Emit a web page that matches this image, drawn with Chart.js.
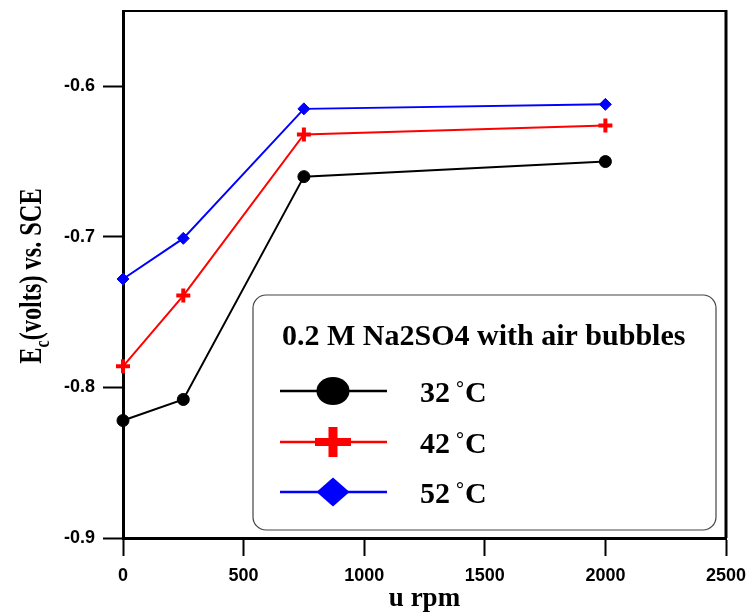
<!DOCTYPE html>
<html>
<head>
<meta charset="utf-8">
<script src="https://cdn.jsdelivr.net/npm/chart.js@4.4.1/dist/chart.umd.min.js"></script>
<style>
  html, body { margin: 0; padding: 0; background: #fff; }
  #wrap { width: 750px; height: 615px; }
</style>
</head>
<body>
<div id="wrap"><canvas id="myChart" width="750" height="615"></canvas></div>
<script>
// rotation speed (rpm) and corrosion potential per temperature
const RPM = [0, 250, 750, 2000];
const E_32C = [-0.822, -0.808, -0.660, -0.650];
const E_42C = [-0.786, -0.739, -0.632, -0.626];
const E_52C = [-0.728, -0.701, -0.615, -0.612];

const X_TICKS = [0, 500, 1000, 1500, 2000, 2500];
const Y_TICKS = [-0.9, -0.8, -0.7, -0.6];
const TEMPS = ['32', '42', '52'];
const LEGEND_TITLE = '0.2 M Na2SO4 with air bubbles';

const SERIF = '"Liberation Serif", "Times New Roman", serif';
const SANS = '"Liberation Sans", Arial, sans-serif';

function toPoints(values) {
  return RPM.map((x, i) => ({ x: x, y: values[i] }));
}

// keep the plot box fixed: no extra room reserved for edge labels
function noEdgePadding(scale) {
  scale.paddingTop = 0;
  scale.paddingBottom = 0;
  scale.paddingLeft = 0;
  scale.paddingRight = 0;
}

const DATA = {
  datasets: [
    {
      label: TEMPS[0],
      data: toPoints(E_32C),
      borderColor: '#000000',
      backgroundColor: '#000000',
      borderWidth: 2,
      pointStyle: 'circle',
      pointRadius: 6,
      pointBorderWidth: 1,
      clip: false
    },
    {
      label: TEMPS[1],
      data: toPoints(E_42C),
      borderColor: '#ff0000',
      backgroundColor: '#ff0000',
      borderWidth: 2,
      pointStyle: 'cross',
      pointRadius: 7,
      pointBorderWidth: 4,
      clip: false
    },
    {
      label: TEMPS[2],
      data: toPoints(E_52C),
      borderColor: '#0000ff',
      backgroundColor: '#0000ff',
      borderWidth: 2,
      pointStyle: 'rectRot',
      pointRadius: 6,
      pointBorderWidth: 1,
      clip: false
    }
  ]
};

// frame, rotated axis title with subscript, and the boxed legend
const DECORATIONS = {
  id: 'decorations',
  afterDraw(chart) {
    const { ctx, chartArea } = chart;
    ctx.save();

    // top and right edges of the frame
    ctx.strokeStyle = '#000';
    ctx.lineWidth = 2;
    ctx.beginPath();
    ctx.moveTo(chartArea.left, chartArea.top);
    ctx.lineTo(chartArea.right, chartArea.top);
    ctx.stroke();
    ctx.lineWidth = 3;
    ctx.beginPath();
    ctx.moveTo(chartArea.right, chartArea.top - 1);
    ctx.lineTo(chartArea.right, chartArea.bottom);
    ctx.stroke();

    // y title: E_c(volts) vs. SCE, tall and narrow
    ctx.fillStyle = '#000';
    ctx.translate(41, 276);
    ctx.rotate(-Math.PI / 2);
    ctx.scale(0.76, 1);
    ctx.textBaseline = 'alphabetic';
    ctx.textAlign = 'left';
    const BIG = 'bold 32px ' + SERIF;
    const SMALL = 'bold 21px ' + SERIF;
    ctx.font = BIG;
    const wE = ctx.measureText('E').width;
    const wRest = ctx.measureText('(volts) vs. SCE').width;
    ctx.font = SMALL;
    const wC = ctx.measureText('c').width;
    let x0 = -(wE + wC + wRest) / 2;
    ctx.font = BIG;
    ctx.fillText('E', x0, 0);
    ctx.font = SMALL;
    ctx.fillText('c', x0 + wE, 8);
    ctx.font = BIG;
    ctx.fillText('(volts) vs. SCE', x0 + wE + wC, 0);
    ctx.setTransform(1, 0, 0, 1, 0, 0);

    // legend box
    ctx.lineWidth = 1.2;
    ctx.strokeStyle = '#444';
    ctx.fillStyle = '#fff';
    ctx.beginPath();
    ctx.roundRect(253, 295, 463, 235, 13);
    ctx.fill();
    ctx.stroke();

    ctx.fillStyle = '#000';
    ctx.font = 'bold 30px ' + SERIF;
    ctx.textAlign = 'left';
    ctx.fillText(LEGEND_TITLE, 282, 345);

    const ROW_Y = [391, 442, 492];
    chart.data.datasets.forEach((ds, i) => {
      const y = ROW_Y[i];
      const cx = 333;
      ctx.strokeStyle = ds.borderColor;
      ctx.fillStyle = ds.backgroundColor;
      ctx.lineWidth = 2.5;
      ctx.beginPath();
      ctx.moveTo(280, y);
      ctx.lineTo(387, y);
      ctx.stroke();
      if (ds.pointStyle === 'circle') {
        ctx.beginPath();
        ctx.ellipse(cx, y, 16.5, 14, 0, 0, Math.PI * 2);
        ctx.fill();
      } else if (ds.pointStyle === 'cross') {
        ctx.fillRect(cx - 18, y - 4, 36, 8);
        ctx.fillRect(cx - 4.5, y - 15, 9, 30);
      } else {
        ctx.beginPath();
        ctx.moveTo(cx - 16.5, y);
        ctx.lineTo(cx, y - 14.5);
        ctx.lineTo(cx + 16.5, y);
        ctx.lineTo(cx, y + 14.5);
        ctx.closePath();
        ctx.fill();
      }

      ctx.fillStyle = '#000';
      ctx.font = 'bold 30px ' + SERIF;
      ctx.fillText(ds.label, 420, y + 11);
      ctx.font = 'bold 20px ' + SERIF;
      ctx.fillText('°', 456, y + 4);
      ctx.font = 'bold 30px ' + SERIF;
      ctx.fillText('C', 465, y + 11);
    });

    ctx.restore();
  }
};

const CONFIG = {
  type: 'line',
  data: DATA,
  options: {
    responsive: false,
    animation: false,
    devicePixelRatio: 1,
    layout: {
      padding: { top: 10, right: 24, bottom: 0, left: 0 }
    },
    plugins: {
      legend: { display: false },
      tooltip: { enabled: false }
    },
    scales: {
      x: {
        type: 'linear',
        position: 'bottom',
        min: 0,
        max: 2500,
        afterBuildTicks: scale => { scale.ticks = X_TICKS.map(v => ({ value: v })); },
        afterFit: scale => { scale.height = 77; noEdgePadding(scale); },
        ticks: {
          color: '#000',
          font: { family: SANS, size: 18, weight: 'bold' },
          padding: 9,
          maxRotation: 0,
          callback: value => String(value)
        },
        grid: {
          drawOnChartArea: false,
          drawTicks: true,
          tickLength: 18,
          tickWidth: 2,
          tickColor: '#000'
        },
        border: { color: '#000', width: 3 },
        title: {
          display: true,
          text: 'u rpm',
          color: '#000',
          font: { family: SERIF, size: 27, weight: 'bold' },
          padding: { top: 0, bottom: 0 }
        }
      },
      y: {
        type: 'linear',
        min: -0.9,
        max: -0.55,
        afterBuildTicks: scale => { scale.ticks = Y_TICKS.map(v => ({ value: v })); },
        afterFit: scale => { scale.width = 123; noEdgePadding(scale); },
        ticks: {
          color: '#000',
          font: { family: SANS, size: 18, weight: 'bold' },
          padding: 8,
          callback: value => value.toFixed(1)
        },
        grid: {
          drawOnChartArea: false,
          drawTicks: true,
          tickLength: 20,
          tickWidth: 2,
          tickColor: '#000'
        },
        border: { color: '#000', width: 3 }
      }
    }
  },
  plugins: [DECORATIONS]
};

const MY_CHART = new Chart(document.getElementById('myChart'), CONFIG);
</script>
</body>
</html>
